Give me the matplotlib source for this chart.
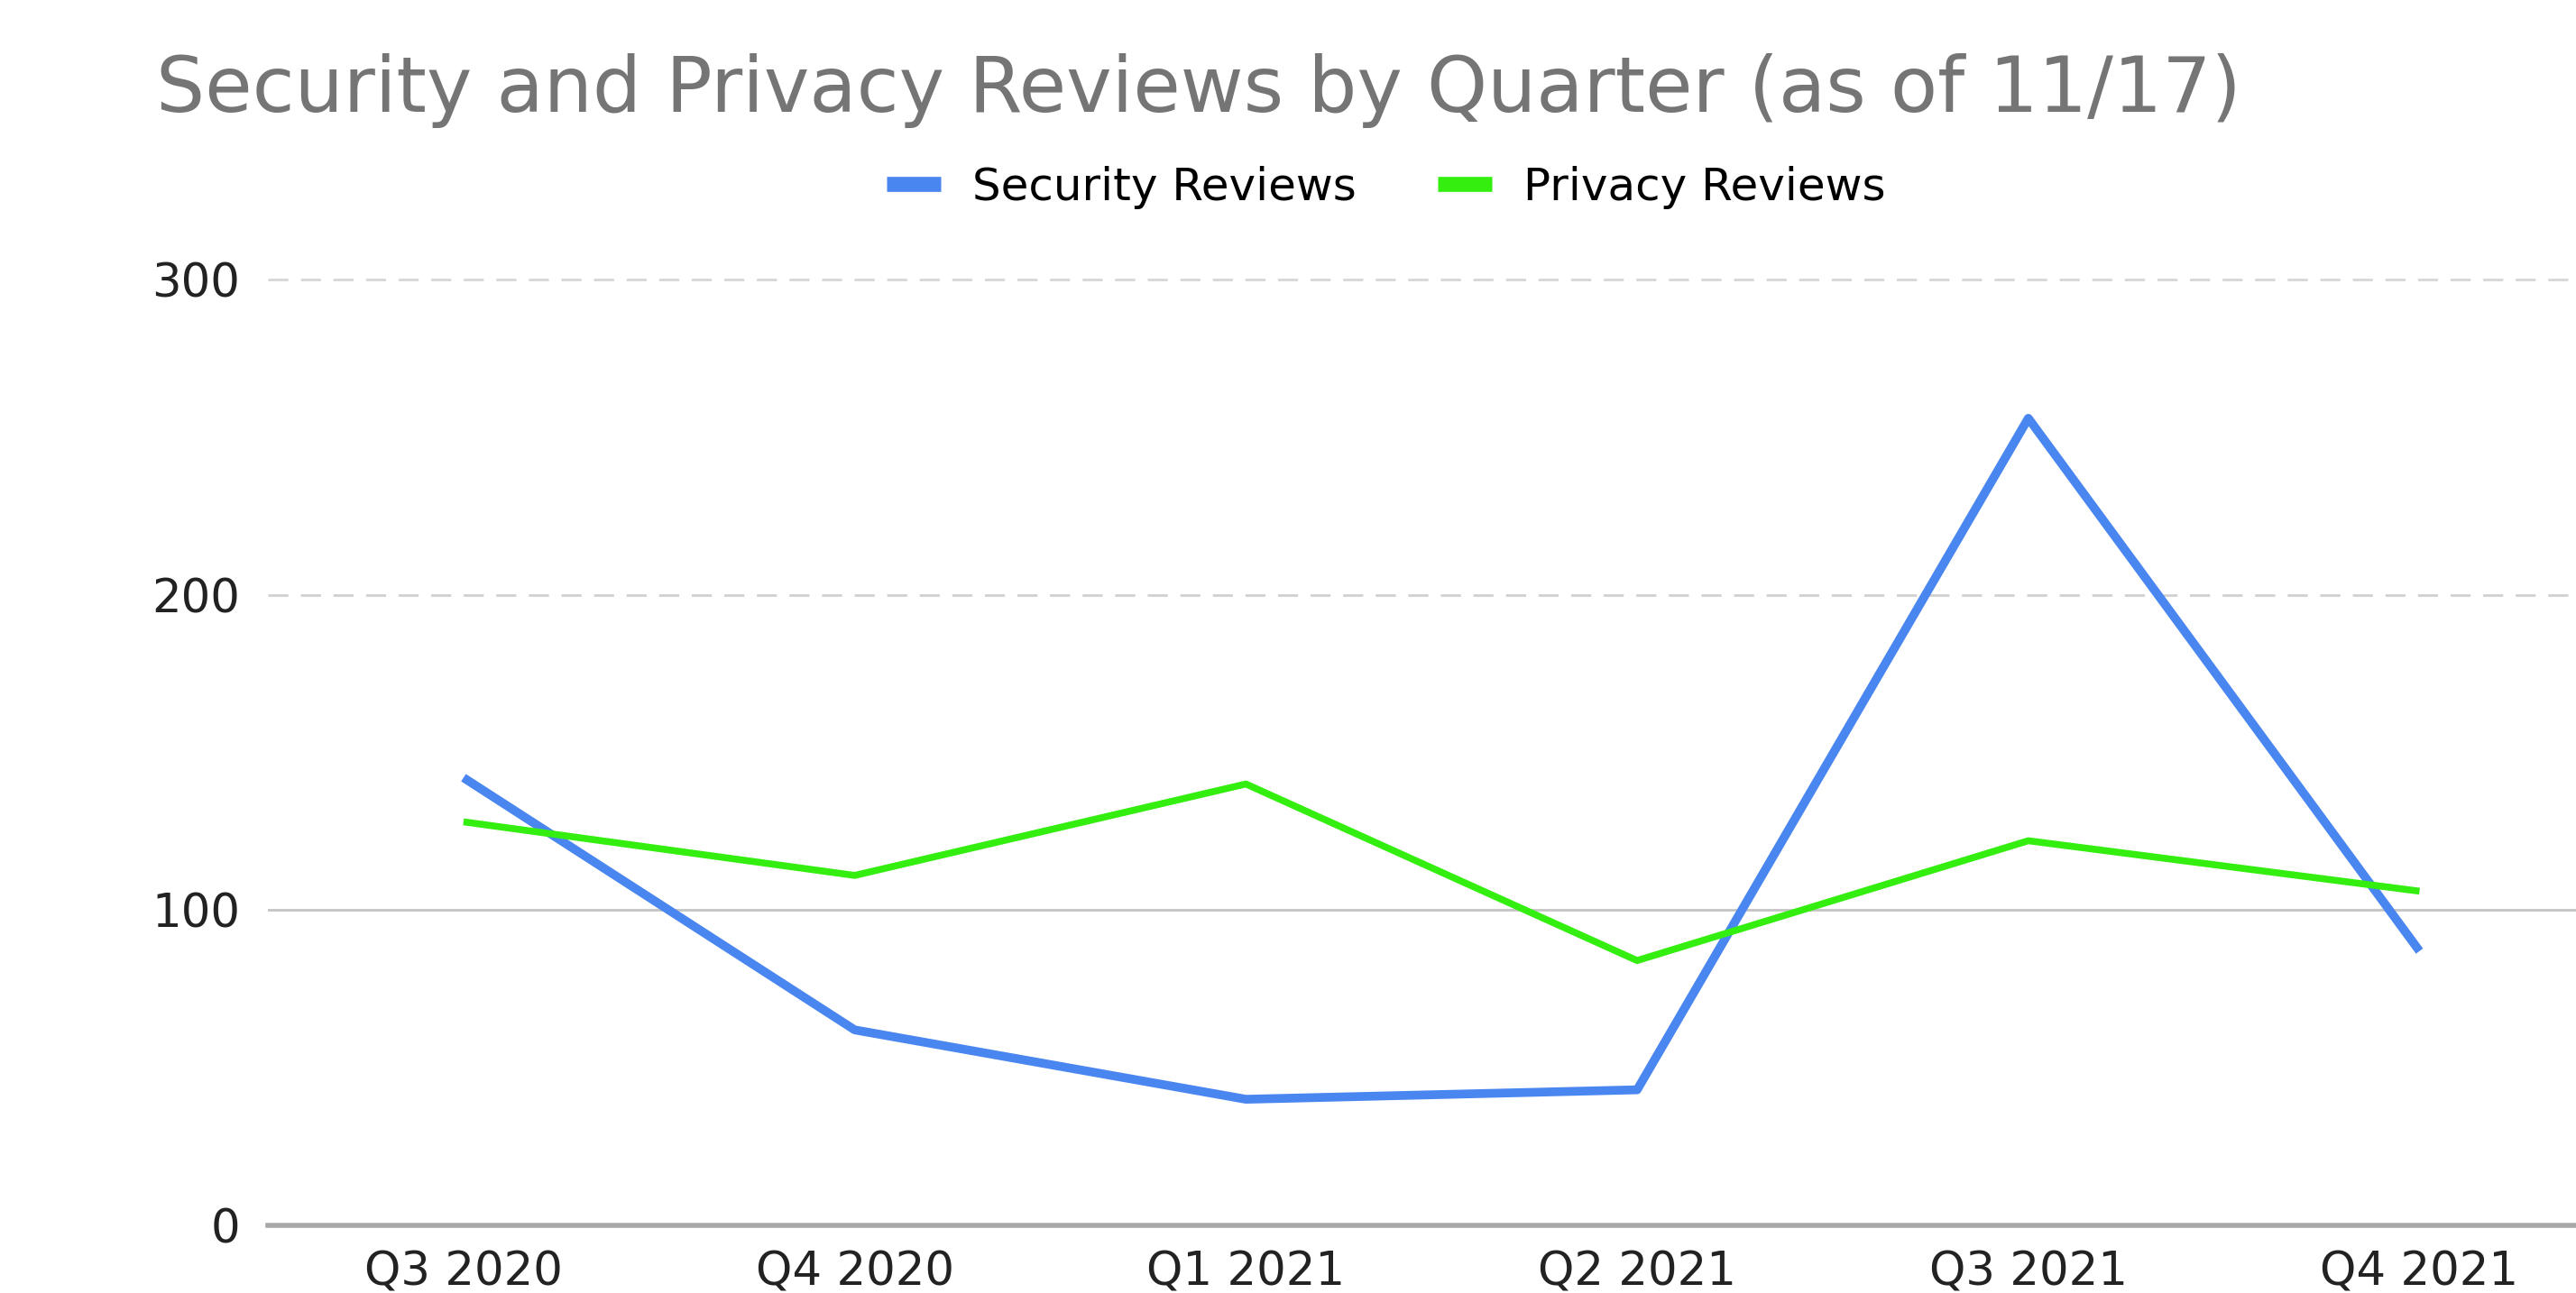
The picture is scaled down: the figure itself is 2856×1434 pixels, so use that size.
import matplotlib.pyplot as plt

plt.rcParams['font.family'] = ['DejaVu Sans']

quarters = ["Q3 2020", "Q4 2020", "Q1 2021", "Q2 2021", "Q3 2021", "Q4 2021"]
security = [142, 62, 40, 43, 256, 87]
privacy = [128, 111, 140, 84, 122, 106]
yticks = [0, 100, 200, 300]

fig = plt.figure(figsize=(28.56, 14.34), dpi=100)
ax = fig.add_axes([0.104, 0.0523, 0.896, 0.7315])

x = range(len(quarters))
ax.plot(x, security, color="#4a86f0", lw=7, label="Security Reviews", solid_capstyle="butt")
ax.plot(x, privacy, color="#33ee0f", lw=5.5, label="Privacy Reviews", solid_capstyle="butt")

ax.set_xlim(-0.5, 5.4)
ax.set_ylim(0, 300)
ax.set_xticks(list(x))
ax.set_xticklabels(quarters)
ax.set_yticks(yticks)
ax.tick_params(length=0, labelsize=37, colors="#222222")
ax.tick_params(axis="x", pad=20)
ax.tick_params(axis="y", pad=22)

# gridlines: dashed at top, solid at 100, axis line at 0
ax.axhline(300, color="#d6d6d6", lw=2, ls=(0, (8, 5)), zorder=0, clip_on=False)
ax.axhline(200, color="#d0d0d0", lw=2, ls=(0, (8, 5)), zorder=0)
ax.axhline(100, color="#c4c4c4", lw=2, zorder=0)
ax.axhline(0, color="#a8a8a8", lw=4, zorder=0, clip_on=False)

for s in ax.spines.values():
    s.set_visible(False)

fig.text(0.0606, 0.9135, "Security and Privacy Reviews by Quarter (as of 11/17)",
         fontsize=61.5, color="#757575", ha="left", va="baseline")

handles, labels = ax.get_legend_handles_labels()
leg = fig.legend(handles, labels, loc="center", bbox_to_anchor=(0.538, 0.855),
                 ncol=2, frameon=False, fontsize=36, handlelength=1.2,
                 handletextpad=0.7, columnspacing=1.8)
for h in leg.legend_handles:
    h.set_linewidth(12)

plt.savefig("out.png", dpi=100)
